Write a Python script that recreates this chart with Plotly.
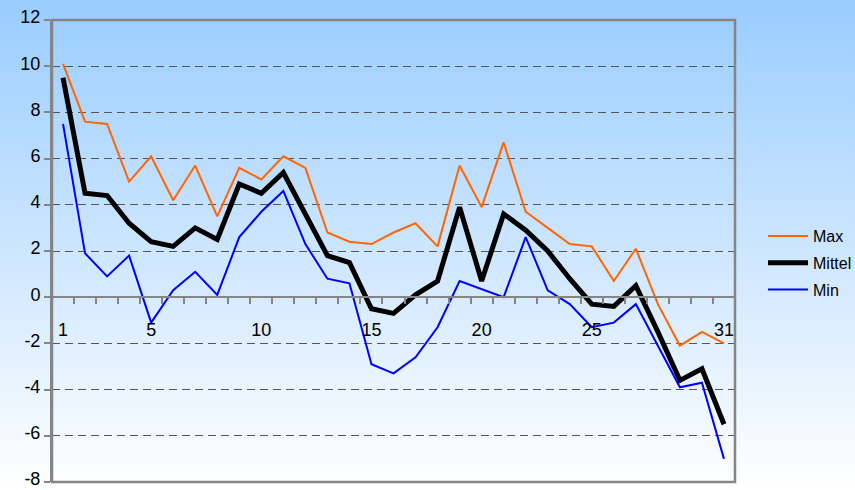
"""
Temperaturverlauf: Max / Mittel / Min pro Tag
"""
import base64
import plotly.graph_objects as go

W, H = 855, 490

# Tage des Monats
days = list(range(1, 32))

# Tageswerte
t_max = [10.1, 7.6, 7.5, 5.0, 6.1, 4.2, 5.7, 3.5, 5.6, 5.1,
         6.1, 5.6, 2.8, 2.4, 2.3, 2.8, 3.2, 2.2, 5.7, 3.9,
         6.7, 3.7, 3.0, 2.3, 2.2, 0.7, 2.1, -0.3, -2.1, -1.5, -2.0]
t_mittel = [9.5, 4.5, 4.4, 3.2, 2.4, 2.2, 3.0, 2.5, 4.9, 4.5,
            5.4, 3.6, 1.8, 1.5, -0.5, -0.7, 0.1, 0.7, 3.9, 0.7,
            3.6, 2.9, 2.0, 0.8, -0.3, -0.4, 0.5, -1.5, -3.6, -3.1, -5.5]
t_min = [7.5, 1.9, 0.9, 1.8, -1.1, 0.3, 1.1, 0.1, 2.6, 3.7,
         4.6, 2.3, 0.8, 0.6, -2.9, -3.3, -2.6, -1.3, 0.7, 0.35,
         0.0, 2.6, 0.3, -0.3, -1.3, -1.1, -0.3, -2.1, -3.9, -3.7, -7.0]

x_ticks = [1, 5, 10, 15, 20, 25, 31]
y_ticks = [-8, -6, -4, -2, 0, 2, 4, 6, 8, 10, 12]
y_labels = ["-8", "-6", "-4", "-2", "0", "2", "4", "6", "8", "10", "12"]
y_range = [-8, 12]

FONT = "Arial, Liberation Sans, sans-serif"
GRAY = "#858585"

# Plotbereich in Pixeln
px_l, px_r, px_t, px_b = 52, 735, 20, 482
x_dom = [px_l / W, px_r / W]
y_dom = [1 - px_b / H, 1 - px_t / H]
# Lage der Null-Linie im Papier-Koordinatensystem
zero_pos = y_dom[0] + (0 - y_range[0]) / (y_range[1] - y_range[0]) * (y_dom[1] - y_dom[0])

# Hintergrund-Verlauf als SVG
svg = (f'<svg xmlns="http://www.w3.org/2000/svg" width="{W}" height="{H}" '
       f'preserveAspectRatio="none"><defs><linearGradient id="g" x1="0" y1="0" x2="0" y2="1">'
       f'<stop offset="0" stop-color="#99CCFF"/><stop offset="1" stop-color="#FFFFFF"/>'
       f'</linearGradient></defs><rect width="{W}" height="{H}" fill="url(#g)"/></svg>')
bg_src = "data:image/svg+xml;base64," + base64.b64encode(svg.encode()).decode()

fig = go.Figure()
fig.add_trace(go.Scatter(x=days, y=t_max, mode="lines", name="Max", legendgroup="max",
                         line=dict(color="#FF6600", width=2)))
fig.add_trace(go.Scatter(x=days, y=t_mittel, mode="lines", name="Mittel", legendgroup="mittel",
                         line=dict(color="#000000", width=5)))
fig.add_trace(go.Scatter(x=days, y=t_min, mode="lines", name="Min", legendgroup="min",
                         line=dict(color="#0000FF", width=2)))

fig.update_layout(
    width=W, height=H,
    margin=dict(l=0, r=0, t=0, b=0, autoexpand=False),
    paper_bgcolor="white",
    plot_bgcolor="rgba(0,0,0,0)",
    font=dict(family=FONT, size=18, color="black"),
    images=[dict(source=bg_src, xref="paper", yref="paper", x=0, y=1,
                 sizex=1, sizey=1, sizing="stretch", layer="below")],
    legend=dict(x=763 / W, y=1 - 263 / H, xanchor="left", yanchor="middle",
                font=dict(size=16), bgcolor="rgba(0,0,0,0)",
                traceorder="grouped", tracegroupgap=3, itemwidth=40),
    shapes=[dict(type="rect", xref="x domain", yref="y domain",
                 x0=0, x1=1, y0=0, y1=1, line=dict(color=GRAY, width=2.5),
                 layer="above")],
)

fig.update_xaxes(
    domain=x_dom, range=[0.5, 31.5], anchor="free", position=zero_pos,
    tickmode="array", tickvals=x_ticks, ticks="", ticklabelstandoff=16,
    showline=True, linecolor=GRAY, linewidth=2, showgrid=False, zeroline=False,
    automargin=False, ticklabeloverflow="allow",
    minor=dict(tick0=0.5, dtick=1, ticks="outside", ticklen=6,
               tickcolor=GRAY, tickwidth=1.5, showgrid=False),
)
fig.update_yaxes(
    domain=y_dom, range=y_range, tickmode="array", tickvals=y_ticks,
    ticktext=y_labels, ticks="outside", ticklen=6, ticklabelshift=-3,
    tickcolor=GRAY, tickwidth=1.5, showline=True, linecolor=GRAY, linewidth=2,
    showgrid=True, gridcolor="#555555", gridwidth=1, griddash="8px,5px",
    zeroline=False, automargin=False, ticklabeloverflow="allow",
)

# Seitenrand entfernen, damit die Grafik bei (0,0) beginnt
fix_pos = ("var d=document.getElementById('{plot_id}');"
           "document.body.style.margin='0';"
           "d.style.position='absolute';d.style.left='0px';d.style.top='0px';")

fig.write_html("out.html", post_script=fix_pos, config={"displayModeBar": False})
